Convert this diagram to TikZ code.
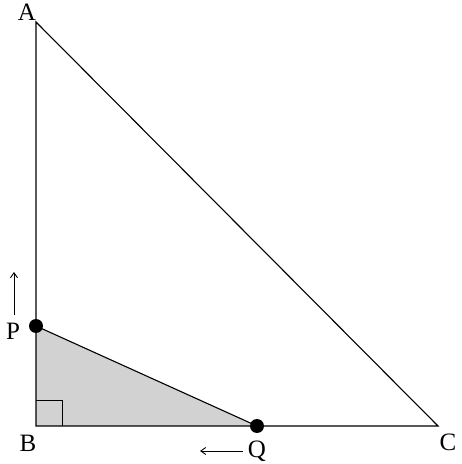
\documentclass[tikz,border=0pt]{standalone}
\usepackage{fontspec}
\setmainfont{Liberation Serif}
\usetikzlibrary{arrows.meta}
\begin{document}
\begin{tikzpicture}[x=1pt,y=1pt,
  edge/.style={line width=1.1pt, line join=miter},
  lbl/.style={font=\fontsize{25}{27}\selectfont, inner sep=0pt},
  dot/.style={circle, fill=black, minimum size=14pt, inner sep=0pt},
  motion/.style={line width=0.9pt, -{Straight Barb[length=5pt,width=7pt]}}]
\useasboundingbox (0,0) rectangle (462,464);
\coordinate (A) at (36,442);
\coordinate (B) at (36,38);
\coordinate (C) at (438,38);
\coordinate (P) at (36,138);
\coordinate (Q) at (257,38);
\fill[gray!35] (B) -- (P) -- (Q) -- cycle;
\draw[edge] (A) -- (B) -- (C) -- cycle;
\draw[edge] (P) -- (Q);
\draw[line width=0.9pt] (36,64) -- (62,64) -- (62,38);
\node[dot] (Pd) at (P) {};
\node[dot] (Qd) at (Q) {};
\node[lbl] (lA) at (27,452) {A};
\node[lbl] (lB) at (28,21) {B};
\node[lbl] (lC) at (448,22) {C};
\node[lbl] (lP) at (13,133) {P};
\node[lbl] (lQ) at (257,12.5) {Q};
\coordinate (pu0) at (14,149);
\coordinate (pu1) at (14,192);
\coordinate (ql0) at (243,13);
\coordinate (ql1) at (200,13);
\draw[motion] (pu0) -- (pu1);
\draw[motion] (ql0) -- (ql1);
\end{tikzpicture}
\end{document}
